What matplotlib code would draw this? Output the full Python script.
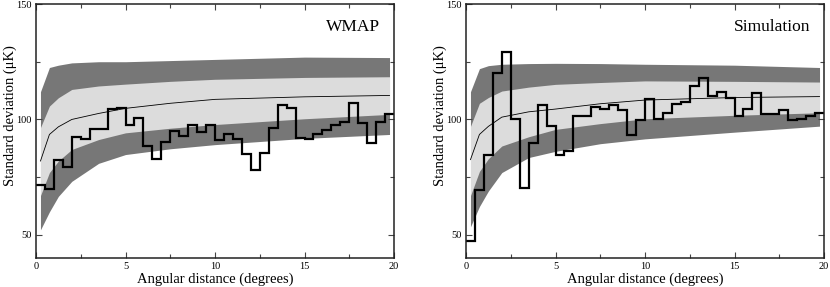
import numpy as np
import matplotlib
matplotlib.use("Agg")
from matplotlib import pyplot as plt
from matplotlib.ticker import MultipleLocator

# bin edges for the measured standard deviation (0.5 degree bins)
edges = np.arange(0, 20.5, 0.5)

wmap_steps = [71.4, 69.7, 82.3, 79.4, 92.5, 91.6, 96.0, 96.0, 104.6, 105.1,
              97.5, 100.7, 88.7, 83.0, 90.1, 95.2, 93.0, 97.7, 94.4, 97.4,
              91.0, 93.5, 91.6, 85.1, 78.0, 85.5, 96.4, 106.1, 105.1, 92.0,
              91.6, 93.6, 95.4, 97.4, 98.8, 107.0, 98.6, 89.9, 99.0, 102.2]

sim_steps = [47.4, 69.6, 84.8, 120.0, 129.3, 100.0, 70.3, 89.9, 106.1, 97.1,
             84.8, 86.2, 101.3, 101.5, 105.2, 104.6, 106.1, 104.3, 93.2, 99.7,
             108.8, 100.0, 102.9, 106.8, 107.5, 114.5, 118.1, 110.1, 112.0, 109.1,
             101.4, 104.6, 111.3, 102.2, 102.5, 104.0, 99.6, 100.0, 101.4, 102.6]

# simulated ensemble: mean, 1 sigma and 2 sigma bands
band_x = [0.25, 0.75, 1.25, 2, 3.5, 5, 7.5, 10, 15, 19.75]

wmap_hi2 = [112, 122.5, 123.5, 124.5, 125, 125, 125.5, 126, 127, 126.8]
wmap_hi1 = [96.5, 105.8, 109.4, 113, 114.5, 115.3, 116.5, 117.4, 118.2, 118.5]
wmap_mean = [82, 93.5, 96.8, 100, 102.6, 104.8, 107, 108.7, 109.8, 110.4]
wmap_lo1 = [67, 77, 82, 87, 91.3, 94.2, 96.2, 97.8, 100.3, 102.2]
wmap_lo2 = [52.2, 60, 66.7, 73.2, 81, 84.8, 87.3, 89.1, 91.8, 93.5]

sim_hi2 = [112, 122, 123.3, 123.9, 124.2, 124.3, 124.2, 123.9, 123.5, 122.5]
sim_hi1 = [97, 107, 109.5, 112.3, 114, 115.2, 116, 116.7, 116.5, 116.2]
sim_mean = [82.6, 93.5, 97, 101, 103.3, 104.5, 106.8, 108.4, 109.5, 109.9]
sim_lo1 = [67, 77.5, 83, 88.5, 92.5, 95.7, 98.2, 100.3, 101.8, 102.9]
sim_lo2 = [53.5, 62.3, 69, 77, 83.5, 86.2, 89.5, 91.6, 94.5, 97.1]

plt.rcParams['font.family'] = ['Liberation Serif', 'DejaVu Serif']

DARK = '#777777'
LIGHT = '#dcdcdc'

fig = plt.figure(figsize=(8.3, 2.87), dpi=100)
ax1 = fig.add_axes([36 / 830, 29 / 287, 358 / 830, 254 / 287])
ax2 = fig.add_axes([466 / 830, 29 / 287, 358 / 830, 254 / 287])

panels = [
    (ax1, 'WMAP', wmap_steps, wmap_hi2, wmap_hi1, wmap_mean, wmap_lo1, wmap_lo2),
    (ax2, 'Simulation', sim_steps, sim_hi2, sim_hi1, sim_mean, sim_lo1, sim_lo2),
]

for ax, name, steps, hi2, hi1, mean, lo1, lo2 in panels:
    ax.fill_between(band_x, lo2, hi2, color=DARK, lw=0)
    ax.fill_between(band_x, lo1, hi1, color=LIGHT, lw=0)
    ax.plot(band_x, mean, color='k', lw=0.6)
    ax.stairs(steps, edges, baseline=None, color='k', lw=1.6)

    ax.set_xlim(0, 20)
    ax.set_ylim(40, 150)
    ax.xaxis.set_major_locator(MultipleLocator(5))
    ax.xaxis.set_minor_locator(MultipleLocator(2.5))
    ax.set_yticks([50, 100, 150])
    ax.yaxis.set_minor_locator(MultipleLocator(25))
    ax.tick_params(which='both', direction='in', top=True, right=True,
                   labelsize=7.5, width=0.8, color='#444444', pad=3)
    ax.tick_params(which='major', length=4.5)
    ax.tick_params(which='minor', length=3)
    for s in ax.spines.values():
        s.set_linewidth(1.1)
        s.set_color('#222222')

    ax.set_xlabel('Angular distance (degrees)', fontsize=10.5, labelpad=1)
    ax.set_ylabel('Standard deviation (μK)', fontsize=10.5)
    ax.yaxis.set_label_coords(-0.054, 0.56)
    ax.text(0.962, 0.91, name, transform=ax.transAxes, ha='right', va='center',
            fontsize=12.5)

fig.savefig('out.png', dpi=100)
